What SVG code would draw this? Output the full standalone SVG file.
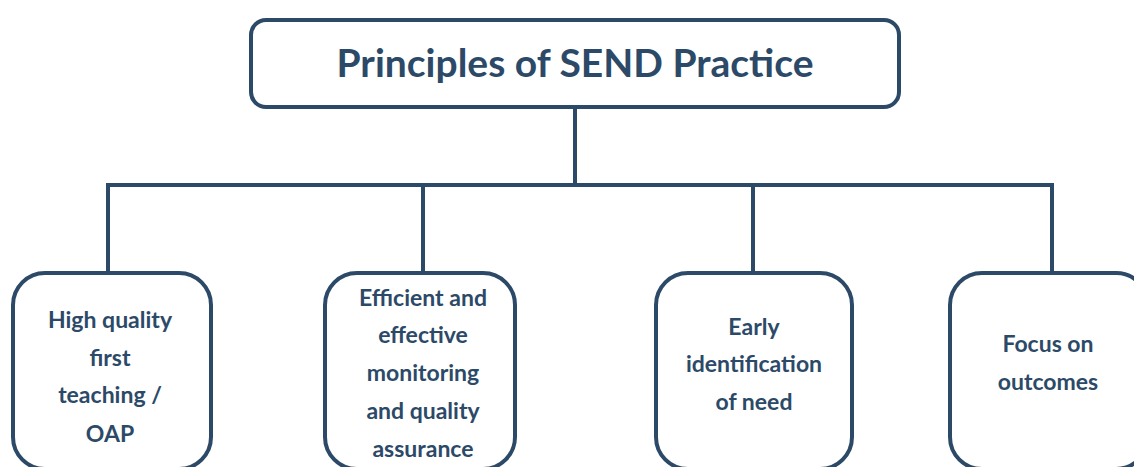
<svg xmlns="http://www.w3.org/2000/svg" width="1134" height="467" viewBox="0 0 1134 467">
<style>
.box{fill:#ffffff;stroke:#2c4a68;stroke-width:4}
.ln{stroke:#2c4a68;stroke-width:4;fill:none;stroke-linecap:square}
.t{font-family:Lato,"Open Sans","Liberation Sans",sans-serif;font-weight:bold;fill:#2c4a68;text-anchor:middle}
.title{font-size:39px}
.lab{font-size:23px}
</style>
<rect width="1134" height="467" fill="#ffffff"/>
<g id="connectors">
<line class="ln" x1="575" y1="107" x2="575" y2="185"/>
<line class="ln" x1="108" y1="185" x2="1052" y2="185"/>
<line class="ln" x1="108" y1="185" x2="108" y2="273"/>
<line class="ln" x1="423" y1="185" x2="423" y2="273"/>
<line class="ln" x1="753" y1="185" x2="753" y2="273"/>
<line class="ln" x1="1052" y1="185" x2="1052" y2="273"/>
</g>
<g id="root">
<rect class="box" x="251" y="20" width="648" height="87" rx="15"/>
<text class="t title" x="575" y="77">Principles of SEND Practice</text>
</g>
<g id="n1">
<rect class="box" x="13" y="273" width="198" height="196" rx="32"/>
<text class="t lab"><tspan x="110" y="328">High quality</tspan><tspan x="110" y="366">first</tspan><tspan x="110" y="403">teaching /</tspan><tspan x="110" y="442">OAP</tspan></text>
</g>
<g id="n2">
<rect class="box" x="325" y="273" width="190" height="196" rx="32"/>
<text class="t lab"><tspan x="423" y="306">Efficient and</tspan><tspan x="423" y="343">effective</tspan><tspan x="423" y="381">monitoring</tspan><tspan x="423" y="419">and quality</tspan><tspan x="423" y="457">assurance</tspan></text>
</g>
<g id="n3">
<rect class="box" x="656" y="273" width="196" height="196" rx="32"/>
<text class="t lab"><tspan x="754" y="335">Early</tspan><tspan x="754" y="372">identification</tspan><tspan x="754" y="410">of need</tspan></text>
</g>
<g id="n4">
<rect class="box" x="950" y="273" width="198" height="196" rx="32"/>
<text class="t lab"><tspan x="1048" y="352">Focus on</tspan><tspan x="1048" y="390">outcomes</tspan></text>
</g>
</svg>
